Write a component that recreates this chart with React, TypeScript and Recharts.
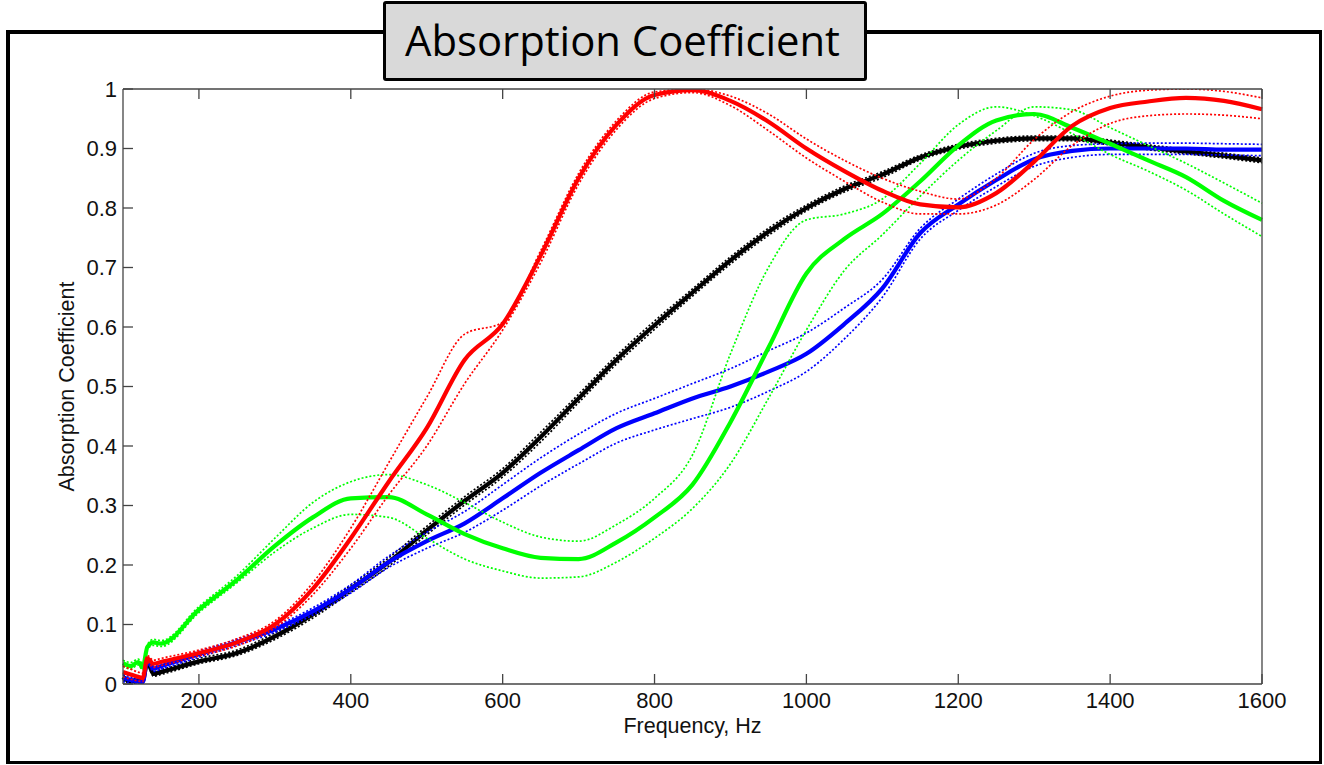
import { LineChart, Line, XAxis, YAxis } from 'recharts';

// frequency grid (Hz)
const freq = [
  100, 110, 120, 126, 132, 140, 150, 200, 250, 300, 350, 400, 450, 500, 550, 600, 650, 700,
  750, 800, 850, 900, 950, 1000, 1050, 1100, 1150, 1200, 1250, 1300, 1350, 1400, 1450, 1500, 1550, 1600,
];

const redMain = [
  0.02, 0.016, 0.012, 0.01, 0.043, 0.034, 0.037, 0.052, 0.07, 0.1, 0.16, 0.245, 0.34, 0.43, 0.545, 0.605, 0.72, 0.85,
  0.94, 0.99, 0.998, 0.98, 0.945, 0.9, 0.862, 0.829, 0.806, 0.801, 0.825, 0.878, 0.938, 0.968, 0.979, 0.985, 0.98, 0.966,
];
const redHi = [
  0.03, 0.025, 0.02, 0.018, 0.048, 0.04, 0.043, 0.057, 0.076, 0.106, 0.17, 0.262, 0.372, 0.482, 0.588, 0.608, 0.728, 0.858,
  0.947, 0.995, 1.0, 0.988, 0.958, 0.916, 0.88, 0.85, 0.828, 0.815, 0.85, 0.915, 0.962, 0.988, 0.998, 1.0, 0.996, 0.985,
];
const redLo = [
  0.012, 0.008, 0.005, 0.004, 0.036, 0.028, 0.031, 0.047, 0.064, 0.094, 0.15, 0.228, 0.318, 0.4, 0.505, 0.595, 0.708, 0.84,
  0.932, 0.984, 0.994, 0.972, 0.93, 0.884, 0.845, 0.81, 0.79, 0.79, 0.805, 0.848, 0.905, 0.942, 0.955, 0.958, 0.956, 0.95,
];

const greenMain = [
  0.035, 0.03, 0.037, 0.028, 0.062, 0.07, 0.068, 0.125, 0.175, 0.232, 0.28, 0.312, 0.314, 0.285, 0.252, 0.228, 0.212, 0.21,
  0.238, 0.28, 0.335, 0.44, 0.565, 0.69, 0.748, 0.79, 0.845, 0.905, 0.947, 0.958, 0.935, 0.908, 0.88, 0.852, 0.812, 0.78,
];
const greenA = [
  0.04, 0.036, 0.042, 0.034, 0.066, 0.075, 0.073, 0.13, 0.182, 0.245, 0.305, 0.34, 0.352, 0.335, 0.305, 0.272, 0.247, 0.24,
  0.268, 0.312, 0.385, 0.555, 0.7, 0.78, 0.79, 0.815, 0.875, 0.94, 0.97, 0.955, 0.925, 0.89, 0.862, 0.83, 0.79, 0.752,
];
const greenB = [
  0.03, 0.025, 0.032, 0.023, 0.058, 0.065, 0.063, 0.12, 0.17, 0.222, 0.262, 0.285, 0.28, 0.245, 0.21, 0.19, 0.178, 0.18,
  0.205, 0.245, 0.295, 0.37, 0.48, 0.595, 0.695, 0.755, 0.82, 0.88, 0.93, 0.97, 0.965, 0.935, 0.905, 0.875, 0.842, 0.808,
];

const blueMain = [
  0.01, 0.007, 0.004, 0.003, 0.04, 0.026, 0.03, 0.05, 0.07, 0.092, 0.122, 0.16, 0.205, 0.24, 0.27, 0.312, 0.355, 0.393,
  0.43, 0.455, 0.48, 0.5, 0.525, 0.555, 0.605, 0.665, 0.758, 0.806, 0.847, 0.882, 0.896, 0.9, 0.9, 0.9, 0.898, 0.898,
];
const blueHi = [
  0.016, 0.012, 0.009, 0.008, 0.045, 0.031, 0.035, 0.055, 0.075, 0.097, 0.128, 0.167, 0.215, 0.255, 0.29, 0.335, 0.38, 0.42,
  0.455, 0.48, 0.505, 0.53, 0.56, 0.59, 0.632, 0.68, 0.766, 0.815, 0.857, 0.892, 0.905, 0.908, 0.909, 0.909, 0.908, 0.907,
];
const blueLo = [
  0.004, 0.002, 0.0, 0.0, 0.035, 0.021, 0.025, 0.045, 0.065, 0.087, 0.116, 0.153, 0.196, 0.228, 0.255, 0.292, 0.333, 0.37,
  0.405, 0.427, 0.446, 0.465, 0.492, 0.525, 0.58, 0.65, 0.748, 0.796, 0.836, 0.87, 0.885, 0.89, 0.89, 0.89, 0.889, 0.888,
];

const blackMain = [
  0.012, 0.004, 0.006, 0.005, 0.037, 0.017, 0.02, 0.038, 0.052, 0.08, 0.117, 0.16, 0.205, 0.258, 0.308, 0.355, 0.415, 0.48,
  0.545, 0.603, 0.658, 0.712, 0.76, 0.8, 0.832, 0.856, 0.885, 0.903, 0.913, 0.917, 0.917, 0.91, 0.902, 0.895, 0.888, 0.88,
];
const blackHi = [
  0.016, 0.008, 0.01, 0.009, 0.041, 0.021, 0.024, 0.043, 0.057, 0.086, 0.123, 0.166, 0.212, 0.265, 0.315, 0.362, 0.423, 0.487,
  0.552, 0.61, 0.664, 0.718, 0.766, 0.805, 0.837, 0.861, 0.889, 0.907, 0.917, 0.921, 0.921, 0.914, 0.906, 0.899, 0.892, 0.884,
];
const blackLo = [
  0.008, 0.001, 0.002, 0.001, 0.033, 0.013, 0.016, 0.034, 0.048, 0.075, 0.111, 0.154, 0.198, 0.251, 0.301, 0.348, 0.407, 0.473,
  0.538, 0.596, 0.652, 0.706, 0.754, 0.795, 0.827, 0.851, 0.881, 0.899, 0.909, 0.913, 0.913, 0.906, 0.898, 0.891, 0.884, 0.876,
];

const xTicks = [200, 400, 600, 800, 1000, 1200, 1400, 1600];
const yTicks = [0, 0.1, 0.2, 0.3, 0.4, 0.5, 0.6, 0.7, 0.8, 0.9, 1];

const data = freq.map((f, i) => ({
  f,
  redMain: redMain[i],
  redHi: redHi[i],
  redLo: redLo[i],
  greenMain: greenMain[i],
  greenA: greenA[i],
  greenB: greenB[i],
  blueMain: blueMain[i],
  blueHi: blueHi[i],
  blueLo: blueLo[i],
  blackMain: blackMain[i],
  blackHi: blackHi[i],
  blackLo: blackLo[i],
}));

// drawing order: black, blue, green, red
const series = [
  { key: 'blackLo', color: '#000000', dotted: true },
  { key: 'blackHi', color: '#000000', dotted: true },
  { key: 'blackMain', color: '#000000', dotted: false },
  { key: 'blueLo', color: '#0000ff', dotted: true },
  { key: 'blueHi', color: '#0000ff', dotted: true },
  { key: 'blueMain', color: '#0000ff', dotted: false },
  { key: 'greenA', color: '#00ff00', dotted: true },
  { key: 'greenB', color: '#00ff00', dotted: true },
  { key: 'greenMain', color: '#00ff00', dotted: false },
  { key: 'redLo', color: '#ff0000', dotted: true },
  { key: 'redHi', color: '#ff0000', dotted: true },
  { key: 'redMain', color: '#ff0000', dotted: false },
];

const tickFont = { fontFamily: 'Liberation Sans, Arial, sans-serif', fontSize: 22, fill: '#111' };
const axisStroke = '#444';

const YLabel = (props: any) => {
  const vb = props.viewBox;
  const cy = vb.y + vb.height / 2;
  return (
    <text
      x={67}
      y={cy}
      transform={`rotate(-90, 67, ${cy})`}
      textAnchor="middle"
      dominantBaseline="central"
      style={{ fontFamily: 'Liberation Sans, Arial, sans-serif', fontSize: 21.5, fill: '#111' }}
    >
      Absorption Coefficient
    </text>
  );
};

const fmtY = (v: number) => (v === 0 ? '0' : v === 1 ? '1' : String(v));

export default function App() {
  return (
    <div
      style={{
        position: 'absolute',
        left: 0,
        top: 0,
        width: 1324,
        height: 765,
        background: '#fff',
        overflow: 'hidden',
      }}
    >
      {/* outer frame */}
      <div
        style={{
          position: 'absolute',
          left: 6,
          top: 30,
          width: 1316,
          height: 734,
          boxSizing: 'border-box',
          borderStyle: 'solid',
          borderColor: '#000',
          borderWidth: '4px 3px 3px 4px',
        }}
      />

      <div style={{ position: 'absolute', left: 0, top: 0 }}>
        <LineChart width={1324} height={765} data={data} margin={{ top: 87, right: 60, bottom: 21, left: 63 }}>
          <XAxis
            dataKey="f"
            type="number"
            domain={[100, 1600]}
            ticks={xTicks}
            interval={0}
            height={60}
            tickSize={-10}
            tickMargin={18}
            stroke={axisStroke}
            strokeWidth={1.3}
            tick={tickFont}
            label={{
              value: 'Frequency, Hz',
              position: 'insideBottom',
              offset: 11,
              style: { fontFamily: 'Liberation Sans, Arial, sans-serif', fontSize: 21.5, fill: '#111' },
            }}
          />
          <XAxis
            xAxisId="top"
            orientation="top"
            dataKey="f"
            type="number"
            domain={[100, 1600]}
            ticks={xTicks}
            interval={0}
            height={2}
            tickSize={-10}
            stroke={axisStroke}
            strokeWidth={1.3}
            tickFormatter={() => ''}
          />
          <YAxis
            type="number"
            domain={[0, 1]}
            allowDataOverflow
            ticks={yTicks}
            interval={0}
            width={60}
            tickSize={-10}
            tickMargin={16}
            stroke={axisStroke}
            strokeWidth={1.3}
            tick={tickFont}
            tickFormatter={fmtY}
            label={{ value: 'Absorption Coefficient', content: YLabel }}
          />
          <YAxis
            yAxisId="right"
            orientation="right"
            type="number"
            domain={[0, 1]}
            ticks={yTicks}
            interval={0}
            width={2}
            tickSize={-10}
            stroke={axisStroke}
            strokeWidth={1.3}
            tickFormatter={() => ''}
          />
          {series.map((s) => (
            <Line
              key={s.key}
              dataKey={s.key}
              type="monotone"
              stroke={s.color}
              strokeWidth={s.dotted ? 1.7 : 4.2}
              strokeDasharray={s.dotted ? '2 2' : undefined}
              dot={false}
              activeDot={false}
              isAnimationActive={false}
            />
          ))}
        </LineChart>
      </div>

      {/* title box */}
      <div
        style={{
          position: 'absolute',
          left: 383,
          top: 1,
          width: 484,
          height: 80,
          boxSizing: 'border-box',
          background: '#d9d9d9',
          border: '3px solid #000',
          borderRadius: 3,
        }}
      >
        <svg width={478} height={74} style={{ display: 'block' }}>
          <text
            x={19}
            y={52}
            textLength={435}
            lengthAdjust="spacingAndGlyphs"
            style={{ fontFamily: 'Open Sans, Noto Sans, sans-serif', fontSize: 42, fill: '#000' }}
          >
            Absorption Coefficient
          </text>
        </svg>
      </div>
    </div>
  );
}
